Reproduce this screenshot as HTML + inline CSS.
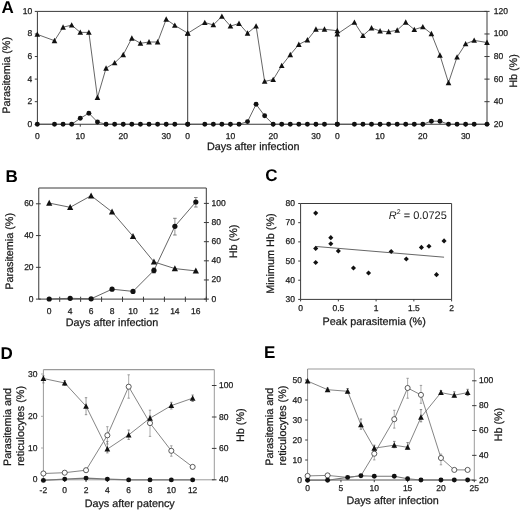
<!DOCTYPE html>
<html><head><meta charset="utf-8"><style>
html,body{margin:0;padding:0;background:#fff;}
svg{display:block;font-family:"Liberation Sans", sans-serif;text-rendering:geometricPrecision;-webkit-font-smoothing:antialiased;filter:grayscale(1) blur(0.3px);}
</style></head><body>
<svg width="520" height="511" viewBox="0 0 520 511">
<rect width="520" height="511" fill="#fff"/>

<line x1="37.40" y1="11.40" x2="487.00" y2="11.40" stroke="#3a3a3a" stroke-width="1.0"/>
<line x1="37.40" y1="11.40" x2="37.40" y2="124.25" stroke="#3a3a3a" stroke-width="1.0"/>
<line x1="487.00" y1="11.40" x2="487.00" y2="124.25" stroke="#3a3a3a" stroke-width="1.0"/>
<line x1="37.40" y1="124.25" x2="487.00" y2="124.25" stroke="#3a3a3a" stroke-width="1.0"/>
<line x1="187.70" y1="11.40" x2="187.70" y2="124.25" stroke="#3a3a3a" stroke-width="1.0"/>
<line x1="337.30" y1="11.40" x2="337.30" y2="124.25" stroke="#3a3a3a" stroke-width="1.0"/>
<line x1="34.80" y1="124.25" x2="37.40" y2="124.25" stroke="#3a3a3a" stroke-width="1.0"/>
<text x="32.30" y="126.77" font-size="8.5" text-anchor="end" fill="#1a1a1a" stroke="#1a1a1a" stroke-width="0.25">0</text>
<line x1="34.80" y1="101.68" x2="37.40" y2="101.68" stroke="#3a3a3a" stroke-width="1.0"/>
<text x="32.30" y="104.20" font-size="8.5" text-anchor="end" fill="#1a1a1a" stroke="#1a1a1a" stroke-width="0.25">2</text>
<line x1="34.80" y1="79.11" x2="37.40" y2="79.11" stroke="#3a3a3a" stroke-width="1.0"/>
<text x="32.30" y="81.63" font-size="8.5" text-anchor="end" fill="#1a1a1a" stroke="#1a1a1a" stroke-width="0.25">4</text>
<line x1="34.80" y1="56.54" x2="37.40" y2="56.54" stroke="#3a3a3a" stroke-width="1.0"/>
<text x="32.30" y="59.06" font-size="8.5" text-anchor="end" fill="#1a1a1a" stroke="#1a1a1a" stroke-width="0.25">6</text>
<line x1="34.80" y1="33.97" x2="37.40" y2="33.97" stroke="#3a3a3a" stroke-width="1.0"/>
<text x="32.30" y="36.49" font-size="8.5" text-anchor="end" fill="#1a1a1a" stroke="#1a1a1a" stroke-width="0.25">8</text>
<line x1="34.80" y1="11.40" x2="37.40" y2="11.40" stroke="#3a3a3a" stroke-width="1.0"/>
<text x="32.30" y="13.92" font-size="8.5" text-anchor="end" fill="#1a1a1a" stroke="#1a1a1a" stroke-width="0.25">10</text>
<line x1="484.40" y1="124.25" x2="489.60" y2="124.25" stroke="#3a3a3a" stroke-width="1.0"/>
<text x="493.70" y="126.77" font-size="8.5" text-anchor="start" fill="#1a1a1a" stroke="#1a1a1a" stroke-width="0.25">20</text>
<line x1="484.40" y1="101.68" x2="489.60" y2="101.68" stroke="#3a3a3a" stroke-width="1.0"/>
<text x="493.70" y="104.20" font-size="8.5" text-anchor="start" fill="#1a1a1a" stroke="#1a1a1a" stroke-width="0.25">40</text>
<line x1="484.40" y1="79.11" x2="489.60" y2="79.11" stroke="#3a3a3a" stroke-width="1.0"/>
<text x="493.70" y="81.63" font-size="8.5" text-anchor="start" fill="#1a1a1a" stroke="#1a1a1a" stroke-width="0.25">60</text>
<line x1="484.40" y1="56.54" x2="489.60" y2="56.54" stroke="#3a3a3a" stroke-width="1.0"/>
<text x="493.70" y="59.06" font-size="8.5" text-anchor="start" fill="#1a1a1a" stroke="#1a1a1a" stroke-width="0.25">80</text>
<line x1="484.40" y1="33.97" x2="489.60" y2="33.97" stroke="#3a3a3a" stroke-width="1.0"/>
<text x="493.70" y="36.49" font-size="8.5" text-anchor="start" fill="#1a1a1a" stroke="#1a1a1a" stroke-width="0.25">100</text>
<line x1="484.40" y1="11.40" x2="489.60" y2="11.40" stroke="#3a3a3a" stroke-width="1.0"/>
<text x="493.70" y="13.92" font-size="8.5" text-anchor="start" fill="#1a1a1a" stroke="#1a1a1a" stroke-width="0.25">120</text>
<text x="37.30" y="138.72" font-size="8.5" text-anchor="middle" fill="#1a1a1a" stroke="#1a1a1a" stroke-width="0.25">0</text>
<line x1="80.27" y1="124.25" x2="80.27" y2="126.65" stroke="#3a3a3a" stroke-width="1.0"/>
<text x="80.27" y="138.72" font-size="8.5" text-anchor="middle" fill="#1a1a1a" stroke="#1a1a1a" stroke-width="0.25">10</text>
<line x1="123.24" y1="124.25" x2="123.24" y2="126.65" stroke="#3a3a3a" stroke-width="1.0"/>
<text x="123.24" y="138.72" font-size="8.5" text-anchor="middle" fill="#1a1a1a" stroke="#1a1a1a" stroke-width="0.25">20</text>
<line x1="166.21" y1="124.25" x2="166.21" y2="126.65" stroke="#3a3a3a" stroke-width="1.0"/>
<text x="166.21" y="138.72" font-size="8.5" text-anchor="middle" fill="#1a1a1a" stroke="#1a1a1a" stroke-width="0.25">30</text>
<text x="187.70" y="138.72" font-size="8.5" text-anchor="middle" fill="#1a1a1a" stroke="#1a1a1a" stroke-width="0.25">0</text>
<line x1="230.44" y1="124.25" x2="230.44" y2="126.65" stroke="#3a3a3a" stroke-width="1.0"/>
<text x="230.44" y="138.72" font-size="8.5" text-anchor="middle" fill="#1a1a1a" stroke="#1a1a1a" stroke-width="0.25">10</text>
<line x1="273.19" y1="124.25" x2="273.19" y2="126.65" stroke="#3a3a3a" stroke-width="1.0"/>
<text x="273.19" y="138.72" font-size="8.5" text-anchor="middle" fill="#1a1a1a" stroke="#1a1a1a" stroke-width="0.25">20</text>
<line x1="315.93" y1="124.25" x2="315.93" y2="126.65" stroke="#3a3a3a" stroke-width="1.0"/>
<text x="315.93" y="138.72" font-size="8.5" text-anchor="middle" fill="#1a1a1a" stroke="#1a1a1a" stroke-width="0.25">30</text>
<text x="337.30" y="138.72" font-size="8.5" text-anchor="middle" fill="#1a1a1a" stroke="#1a1a1a" stroke-width="0.25">0</text>
<line x1="380.07" y1="124.25" x2="380.07" y2="126.65" stroke="#3a3a3a" stroke-width="1.0"/>
<text x="380.07" y="138.72" font-size="8.5" text-anchor="middle" fill="#1a1a1a" stroke="#1a1a1a" stroke-width="0.25">10</text>
<line x1="422.84" y1="124.25" x2="422.84" y2="126.65" stroke="#3a3a3a" stroke-width="1.0"/>
<text x="422.84" y="138.72" font-size="8.5" text-anchor="middle" fill="#1a1a1a" stroke="#1a1a1a" stroke-width="0.25">20</text>
<line x1="465.61" y1="124.25" x2="465.61" y2="126.65" stroke="#3a3a3a" stroke-width="1.0"/>
<text x="465.61" y="138.72" font-size="8.5" text-anchor="middle" fill="#1a1a1a" stroke="#1a1a1a" stroke-width="0.25">30</text>
<text x="253.20" y="150.00" font-size="10.8" text-anchor="middle" fill="#1a1a1a" stroke="#1a1a1a" stroke-width="0.25">Days after infection</text>
<text transform="translate(10.49 75.40) rotate(-90)" font-size="10.8" text-anchor="middle" fill="#1a1a1a" stroke="#1a1a1a" stroke-width="0.25">Parasitemia (%)</text>
<text transform="translate(517.29 71.00) rotate(-90)" font-size="10.8" text-anchor="middle" fill="#1a1a1a" stroke="#1a1a1a" stroke-width="0.25">Hb (%)</text>
<text x="1.60" y="12.80" font-size="17" text-anchor="start" font-weight="bold" fill="#000">A</text>
<polyline points="37.30,124.25 54.49,124.25 63.08,124.25 71.68,124.25 80.27,118.30 88.87,113.20 97.46,122.00 106.05,124.25 114.65,124.25 123.24,124.25 131.84,124.25 140.43,124.25 149.03,124.25 157.62,124.25 166.21,124.25 174.81,124.25 187.70,124.25" fill="none" stroke="#555" stroke-width="0.9"/>
<polyline points="37.30,34.40 54.49,40.70 63.08,27.20 71.68,25.10 80.27,32.40 88.87,32.40 97.46,97.50 106.05,68.20 114.65,62.90 123.24,54.70 131.84,38.20 140.43,43.30 149.03,42.00 157.62,42.00 166.21,19.30 174.81,25.40 187.70,33.10" fill="none" stroke="#555" stroke-width="0.9"/>
<polyline points="187.70,124.25 204.80,124.25 213.35,124.25 221.89,124.25 230.44,124.25 238.99,124.25 247.54,121.60 256.09,104.30 264.64,115.80 273.19,124.25 281.73,124.25 290.28,124.25 298.83,124.25 307.38,124.25 315.93,124.25 324.48,124.25 337.30,124.25" fill="none" stroke="#555" stroke-width="0.9"/>
<polyline points="187.70,33.30 204.80,22.60 213.35,24.90 221.89,16.40 230.44,26.10 238.99,23.50 247.54,33.20 256.09,26.10 264.64,81.40 273.19,79.60 281.73,65.60 290.28,54.70 298.83,44.50 307.38,40.00 315.93,29.30 324.48,29.30 337.30,30.70" fill="none" stroke="#555" stroke-width="0.9"/>
<polyline points="337.30,124.25 354.41,124.25 362.96,124.25 371.52,124.25 380.07,124.25 388.63,124.25 397.18,124.25 405.73,124.25 414.29,124.25 422.84,124.25 431.40,121.20 439.95,121.20 448.51,124.25 457.06,124.25 465.61,124.25 474.17,124.25 487.00,124.25" fill="none" stroke="#555" stroke-width="0.9"/>
<polyline points="337.30,34.00 354.41,22.40 362.96,35.60 371.52,28.00 380.07,31.00 388.63,31.80 397.18,30.20 405.73,22.30 414.29,29.60 422.84,26.90 431.40,33.70 439.95,55.20 448.51,82.70 457.06,57.10 465.61,43.90 474.17,40.40 487.00,42.50" fill="none" stroke="#555" stroke-width="0.9"/>
<circle cx="37.30" cy="124.25" r="2.45" fill="#111"/>
<circle cx="54.49" cy="124.25" r="2.45" fill="#111"/>
<circle cx="63.08" cy="124.25" r="2.45" fill="#111"/>
<circle cx="71.68" cy="124.25" r="2.45" fill="#111"/>
<circle cx="80.27" cy="118.30" r="2.45" fill="#111"/>
<circle cx="88.87" cy="113.20" r="2.45" fill="#111"/>
<circle cx="97.46" cy="122.00" r="2.45" fill="#111"/>
<circle cx="106.05" cy="124.25" r="2.45" fill="#111"/>
<circle cx="114.65" cy="124.25" r="2.45" fill="#111"/>
<circle cx="123.24" cy="124.25" r="2.45" fill="#111"/>
<circle cx="131.84" cy="124.25" r="2.45" fill="#111"/>
<circle cx="140.43" cy="124.25" r="2.45" fill="#111"/>
<circle cx="149.03" cy="124.25" r="2.45" fill="#111"/>
<circle cx="157.62" cy="124.25" r="2.45" fill="#111"/>
<circle cx="166.21" cy="124.25" r="2.45" fill="#111"/>
<circle cx="174.81" cy="124.25" r="2.45" fill="#111"/>
<circle cx="187.70" cy="124.25" r="2.45" fill="#111"/>
<polygon points="37.30,31.43 34.49,36.83 40.11,36.83" fill="#111"/>
<polygon points="54.49,37.73 51.68,43.13 57.30,43.13" fill="#111"/>
<polygon points="63.08,24.23 60.27,29.63 65.89,29.63" fill="#111"/>
<polygon points="71.68,22.13 68.87,27.53 74.49,27.53" fill="#111"/>
<polygon points="80.27,29.43 77.46,34.83 83.08,34.83" fill="#111"/>
<polygon points="88.87,29.43 86.06,34.83 91.67,34.83" fill="#111"/>
<polygon points="97.46,94.53 94.65,99.93 100.27,99.93" fill="#111"/>
<polygon points="106.05,65.23 103.25,70.63 108.86,70.63" fill="#111"/>
<polygon points="114.65,59.93 111.84,65.33 117.46,65.33" fill="#111"/>
<polygon points="123.24,51.73 120.43,57.13 126.05,57.13" fill="#111"/>
<polygon points="131.84,35.23 129.03,40.63 134.65,40.63" fill="#111"/>
<polygon points="140.43,40.33 137.62,45.73 143.24,45.73" fill="#111"/>
<polygon points="149.03,39.03 146.22,44.43 151.83,44.43" fill="#111"/>
<polygon points="157.62,39.03 154.81,44.43 160.43,44.43" fill="#111"/>
<polygon points="166.21,16.33 163.41,21.73 169.02,21.73" fill="#111"/>
<polygon points="174.81,22.43 172.00,27.83 177.62,27.83" fill="#111"/>
<polygon points="187.70,30.13 184.89,35.53 190.51,35.53" fill="#111"/>
<circle cx="187.70" cy="124.25" r="2.45" fill="#111"/>
<circle cx="204.80" cy="124.25" r="2.45" fill="#111"/>
<circle cx="213.35" cy="124.25" r="2.45" fill="#111"/>
<circle cx="221.89" cy="124.25" r="2.45" fill="#111"/>
<circle cx="230.44" cy="124.25" r="2.45" fill="#111"/>
<circle cx="238.99" cy="124.25" r="2.45" fill="#111"/>
<circle cx="247.54" cy="121.60" r="2.45" fill="#111"/>
<circle cx="256.09" cy="104.30" r="2.45" fill="#111"/>
<circle cx="264.64" cy="115.80" r="2.45" fill="#111"/>
<circle cx="273.19" cy="124.25" r="2.45" fill="#111"/>
<circle cx="281.73" cy="124.25" r="2.45" fill="#111"/>
<circle cx="290.28" cy="124.25" r="2.45" fill="#111"/>
<circle cx="298.83" cy="124.25" r="2.45" fill="#111"/>
<circle cx="307.38" cy="124.25" r="2.45" fill="#111"/>
<circle cx="315.93" cy="124.25" r="2.45" fill="#111"/>
<circle cx="324.48" cy="124.25" r="2.45" fill="#111"/>
<circle cx="337.30" cy="124.25" r="2.45" fill="#111"/>
<polygon points="187.70,30.33 184.89,35.73 190.51,35.73" fill="#111"/>
<polygon points="204.80,19.63 201.99,25.03 207.61,25.03" fill="#111"/>
<polygon points="213.35,21.93 210.54,27.33 216.15,27.33" fill="#111"/>
<polygon points="221.89,13.43 219.09,18.83 224.70,18.83" fill="#111"/>
<polygon points="230.44,23.13 227.63,28.53 233.25,28.53" fill="#111"/>
<polygon points="238.99,20.53 236.18,25.93 241.80,25.93" fill="#111"/>
<polygon points="247.54,30.23 244.73,35.63 250.35,35.63" fill="#111"/>
<polygon points="256.09,23.13 253.28,28.53 258.90,28.53" fill="#111"/>
<polygon points="264.64,78.43 261.83,83.83 267.45,83.83" fill="#111"/>
<polygon points="273.19,76.63 270.38,82.03 275.99,82.03" fill="#111"/>
<polygon points="281.73,62.63 278.93,68.03 284.54,68.03" fill="#111"/>
<polygon points="290.28,51.73 287.47,57.13 293.09,57.13" fill="#111"/>
<polygon points="298.83,41.53 296.02,46.93 301.64,46.93" fill="#111"/>
<polygon points="307.38,37.03 304.57,42.43 310.19,42.43" fill="#111"/>
<polygon points="315.93,26.33 313.12,31.73 318.74,31.73" fill="#111"/>
<polygon points="324.48,26.33 321.67,31.73 327.29,31.73" fill="#111"/>
<polygon points="337.30,27.73 334.49,33.13 340.11,33.13" fill="#111"/>
<circle cx="337.30" cy="124.25" r="2.45" fill="#111"/>
<circle cx="354.41" cy="124.25" r="2.45" fill="#111"/>
<circle cx="362.96" cy="124.25" r="2.45" fill="#111"/>
<circle cx="371.52" cy="124.25" r="2.45" fill="#111"/>
<circle cx="380.07" cy="124.25" r="2.45" fill="#111"/>
<circle cx="388.63" cy="124.25" r="2.45" fill="#111"/>
<circle cx="397.18" cy="124.25" r="2.45" fill="#111"/>
<circle cx="405.73" cy="124.25" r="2.45" fill="#111"/>
<circle cx="414.29" cy="124.25" r="2.45" fill="#111"/>
<circle cx="422.84" cy="124.25" r="2.45" fill="#111"/>
<circle cx="431.40" cy="121.20" r="2.45" fill="#111"/>
<circle cx="439.95" cy="121.20" r="2.45" fill="#111"/>
<circle cx="448.51" cy="124.25" r="2.45" fill="#111"/>
<circle cx="457.06" cy="124.25" r="2.45" fill="#111"/>
<circle cx="465.61" cy="124.25" r="2.45" fill="#111"/>
<circle cx="474.17" cy="124.25" r="2.45" fill="#111"/>
<circle cx="487.00" cy="124.25" r="2.45" fill="#111"/>
<polygon points="337.30,31.03 334.49,36.43 340.11,36.43" fill="#111"/>
<polygon points="354.41,19.43 351.60,24.83 357.22,24.83" fill="#111"/>
<polygon points="362.96,32.63 360.15,38.03 365.77,38.03" fill="#111"/>
<polygon points="371.52,25.03 368.71,30.43 374.33,30.43" fill="#111"/>
<polygon points="380.07,28.03 377.26,33.43 382.88,33.43" fill="#111"/>
<polygon points="388.63,28.83 385.82,34.23 391.43,34.23" fill="#111"/>
<polygon points="397.18,27.23 394.37,32.63 399.99,32.63" fill="#111"/>
<polygon points="405.73,19.33 402.93,24.73 408.54,24.73" fill="#111"/>
<polygon points="414.29,26.63 411.48,32.03 417.10,32.03" fill="#111"/>
<polygon points="422.84,23.93 420.03,29.33 425.65,29.33" fill="#111"/>
<polygon points="431.40,30.73 428.59,36.13 434.21,36.13" fill="#111"/>
<polygon points="439.95,52.23 437.14,57.63 442.76,57.63" fill="#111"/>
<polygon points="448.51,79.73 445.70,85.13 451.31,85.13" fill="#111"/>
<polygon points="457.06,54.13 454.25,59.53 459.87,59.53" fill="#111"/>
<polygon points="465.61,40.93 462.81,46.33 468.42,46.33" fill="#111"/>
<polygon points="474.17,37.43 471.36,42.83 476.98,42.83" fill="#111"/>
<polygon points="487.00,39.53 484.19,44.93 489.81,44.93" fill="#111"/>
<line x1="38.75" y1="188.00" x2="206.30" y2="188.00" stroke="#3a3a3a" stroke-width="1.0"/>
<line x1="38.75" y1="188.00" x2="38.75" y2="299.10" stroke="#3a3a3a" stroke-width="1.0"/>
<line x1="206.30" y1="188.00" x2="206.30" y2="299.10" stroke="#3a3a3a" stroke-width="1.0"/>
<line x1="38.75" y1="299.10" x2="206.30" y2="299.10" stroke="#3a3a3a" stroke-width="1.0"/>
<line x1="59.69" y1="296.70" x2="59.69" y2="301.90" stroke="#3a3a3a" stroke-width="1.0"/>
<line x1="80.64" y1="296.70" x2="80.64" y2="301.90" stroke="#3a3a3a" stroke-width="1.0"/>
<line x1="101.58" y1="296.70" x2="101.58" y2="301.90" stroke="#3a3a3a" stroke-width="1.0"/>
<line x1="122.53" y1="296.70" x2="122.53" y2="301.90" stroke="#3a3a3a" stroke-width="1.0"/>
<line x1="143.47" y1="296.70" x2="143.47" y2="301.90" stroke="#3a3a3a" stroke-width="1.0"/>
<line x1="164.41" y1="296.70" x2="164.41" y2="301.90" stroke="#3a3a3a" stroke-width="1.0"/>
<line x1="185.36" y1="296.70" x2="185.36" y2="301.90" stroke="#3a3a3a" stroke-width="1.0"/>
<line x1="206.30" y1="296.70" x2="206.30" y2="301.90" stroke="#3a3a3a" stroke-width="1.0"/>
<line x1="35.95" y1="299.10" x2="40.75" y2="299.10" stroke="#3a3a3a" stroke-width="1.0"/>
<text x="33.60" y="301.62" font-size="8.5" text-anchor="end" fill="#1a1a1a" stroke="#1a1a1a" stroke-width="0.25">0</text>
<line x1="35.95" y1="267.33" x2="40.75" y2="267.33" stroke="#3a3a3a" stroke-width="1.0"/>
<text x="33.60" y="269.85" font-size="8.5" text-anchor="end" fill="#1a1a1a" stroke="#1a1a1a" stroke-width="0.25">20</text>
<line x1="35.95" y1="235.57" x2="40.75" y2="235.57" stroke="#3a3a3a" stroke-width="1.0"/>
<text x="33.60" y="238.08" font-size="8.5" text-anchor="end" fill="#1a1a1a" stroke="#1a1a1a" stroke-width="0.25">40</text>
<line x1="35.95" y1="203.80" x2="40.75" y2="203.80" stroke="#3a3a3a" stroke-width="1.0"/>
<text x="33.60" y="206.32" font-size="8.5" text-anchor="end" fill="#1a1a1a" stroke="#1a1a1a" stroke-width="0.25">60</text>
<line x1="203.90" y1="299.10" x2="208.90" y2="299.10" stroke="#3a3a3a" stroke-width="1.0"/>
<text x="211.60" y="301.62" font-size="8.5" text-anchor="start" fill="#1a1a1a" stroke="#1a1a1a" stroke-width="0.25">0</text>
<line x1="203.90" y1="279.96" x2="208.90" y2="279.96" stroke="#3a3a3a" stroke-width="1.0"/>
<text x="211.60" y="282.48" font-size="8.5" text-anchor="start" fill="#1a1a1a" stroke="#1a1a1a" stroke-width="0.25">20</text>
<line x1="203.90" y1="260.82" x2="208.90" y2="260.82" stroke="#3a3a3a" stroke-width="1.0"/>
<text x="211.60" y="263.34" font-size="8.5" text-anchor="start" fill="#1a1a1a" stroke="#1a1a1a" stroke-width="0.25">40</text>
<line x1="203.90" y1="241.68" x2="208.90" y2="241.68" stroke="#3a3a3a" stroke-width="1.0"/>
<text x="211.60" y="244.20" font-size="8.5" text-anchor="start" fill="#1a1a1a" stroke="#1a1a1a" stroke-width="0.25">60</text>
<line x1="203.90" y1="222.54" x2="208.90" y2="222.54" stroke="#3a3a3a" stroke-width="1.0"/>
<text x="211.60" y="225.06" font-size="8.5" text-anchor="start" fill="#1a1a1a" stroke="#1a1a1a" stroke-width="0.25">80</text>
<line x1="203.90" y1="203.40" x2="208.90" y2="203.40" stroke="#3a3a3a" stroke-width="1.0"/>
<text x="211.60" y="205.92" font-size="8.5" text-anchor="start" fill="#1a1a1a" stroke="#1a1a1a" stroke-width="0.25">100</text>
<text x="49.22" y="313.72" font-size="8.5" text-anchor="middle" fill="#1a1a1a" stroke="#1a1a1a" stroke-width="0.25">0</text>
<text x="70.17" y="313.72" font-size="8.5" text-anchor="middle" fill="#1a1a1a" stroke="#1a1a1a" stroke-width="0.25">4</text>
<text x="91.11" y="313.72" font-size="8.5" text-anchor="middle" fill="#1a1a1a" stroke="#1a1a1a" stroke-width="0.25">6</text>
<text x="112.05" y="313.72" font-size="8.5" text-anchor="middle" fill="#1a1a1a" stroke="#1a1a1a" stroke-width="0.25">8</text>
<text x="133.00" y="313.72" font-size="8.5" text-anchor="middle" fill="#1a1a1a" stroke="#1a1a1a" stroke-width="0.25">10</text>
<text x="153.94" y="313.72" font-size="8.5" text-anchor="middle" fill="#1a1a1a" stroke="#1a1a1a" stroke-width="0.25">12</text>
<text x="174.88" y="313.72" font-size="8.5" text-anchor="middle" fill="#1a1a1a" stroke="#1a1a1a" stroke-width="0.25">14</text>
<text x="195.83" y="313.72" font-size="8.5" text-anchor="middle" fill="#1a1a1a" stroke="#1a1a1a" stroke-width="0.25">16</text>
<text x="112.00" y="326.10" font-size="10.8" text-anchor="middle" fill="#1a1a1a" stroke="#1a1a1a" stroke-width="0.25">Days after infection</text>
<text transform="translate(12.59 251.40) rotate(-90)" font-size="10.8" text-anchor="middle" fill="#1a1a1a" stroke="#1a1a1a" stroke-width="0.25">Parasitemia (%)</text>
<text transform="translate(236.59 241.40) rotate(-90)" font-size="10.8" text-anchor="middle" fill="#1a1a1a" stroke="#1a1a1a" stroke-width="0.25">Hb (%)</text>
<text x="5.60" y="181.60" font-size="17" text-anchor="start" font-weight="bold" fill="#000">B</text>
<line x1="174.88" y1="218.30" x2="174.88" y2="235.00" stroke="#666" stroke-width="0.7"/>
<line x1="173.08" y1="218.30" x2="176.68" y2="218.30" stroke="#666" stroke-width="0.8"/>
<line x1="173.08" y1="235.00" x2="176.68" y2="235.00" stroke="#666" stroke-width="0.8"/>
<line x1="195.83" y1="197.50" x2="195.83" y2="207.00" stroke="#666" stroke-width="0.7"/>
<line x1="194.03" y1="197.50" x2="197.63" y2="197.50" stroke="#666" stroke-width="0.8"/>
<line x1="194.03" y1="207.00" x2="197.63" y2="207.00" stroke="#666" stroke-width="0.8"/>
<line x1="153.94" y1="268.00" x2="153.94" y2="273.00" stroke="#666" stroke-width="0.7"/>
<line x1="152.14" y1="268.00" x2="155.74" y2="268.00" stroke="#666" stroke-width="0.8"/>
<line x1="152.14" y1="273.00" x2="155.74" y2="273.00" stroke="#666" stroke-width="0.8"/>
<polyline points="49.22,203.10 70.17,207.30 91.11,195.70 112.05,211.90 133.00,236.30 153.94,261.90 174.88,268.60 195.83,270.90" fill="none" stroke="#555" stroke-width="0.9"/>
<polyline points="49.22,299.00 70.17,298.30 91.11,298.80 112.05,289.20 133.00,291.40 153.94,270.40 174.88,226.30 195.83,202.00" fill="none" stroke="#555" stroke-width="0.9"/>
<polygon points="49.22,199.80 46.10,205.80 52.34,205.80" fill="#111"/>
<polygon points="70.17,204.00 67.05,210.00 73.29,210.00" fill="#111"/>
<polygon points="91.11,192.40 87.99,198.40 94.23,198.40" fill="#111"/>
<polygon points="112.05,208.60 108.93,214.60 115.17,214.60" fill="#111"/>
<polygon points="133.00,233.00 129.88,239.00 136.12,239.00" fill="#111"/>
<polygon points="153.94,258.60 150.82,264.60 157.06,264.60" fill="#111"/>
<polygon points="174.88,265.30 171.76,271.30 178.00,271.30" fill="#111"/>
<polygon points="195.83,267.60 192.71,273.60 198.95,273.60" fill="#111"/>
<circle cx="49.22" cy="299.00" r="2.6" fill="#111"/>
<circle cx="70.17" cy="298.30" r="2.6" fill="#111"/>
<circle cx="91.11" cy="298.80" r="2.6" fill="#111"/>
<circle cx="112.05" cy="289.20" r="2.6" fill="#111"/>
<circle cx="133.00" cy="291.40" r="2.6" fill="#111"/>
<circle cx="153.94" cy="270.40" r="2.6" fill="#111"/>
<circle cx="174.88" cy="226.30" r="2.6" fill="#111"/>
<circle cx="195.83" cy="202.00" r="2.6" fill="#111"/>
<line x1="300.60" y1="203.50" x2="451.60" y2="203.50" stroke="#3a3a3a" stroke-width="1.0"/>
<line x1="300.60" y1="203.50" x2="300.60" y2="299.40" stroke="#3a3a3a" stroke-width="1.0"/>
<line x1="451.60" y1="203.50" x2="451.60" y2="299.40" stroke="#3a3a3a" stroke-width="1.0"/>
<line x1="300.60" y1="299.40" x2="451.60" y2="299.40" stroke="#3a3a3a" stroke-width="1.0"/>
<line x1="298.20" y1="299.40" x2="300.60" y2="299.40" stroke="#3a3a3a" stroke-width="1.0"/>
<text x="295.00" y="301.92" font-size="8.5" text-anchor="end" fill="#1a1a1a" stroke="#1a1a1a" stroke-width="0.25">30</text>
<line x1="298.20" y1="280.22" x2="300.60" y2="280.22" stroke="#3a3a3a" stroke-width="1.0"/>
<text x="295.00" y="282.74" font-size="8.5" text-anchor="end" fill="#1a1a1a" stroke="#1a1a1a" stroke-width="0.25">40</text>
<line x1="298.20" y1="261.04" x2="300.60" y2="261.04" stroke="#3a3a3a" stroke-width="1.0"/>
<text x="295.00" y="263.56" font-size="8.5" text-anchor="end" fill="#1a1a1a" stroke="#1a1a1a" stroke-width="0.25">50</text>
<line x1="298.20" y1="241.86" x2="300.60" y2="241.86" stroke="#3a3a3a" stroke-width="1.0"/>
<text x="295.00" y="244.38" font-size="8.5" text-anchor="end" fill="#1a1a1a" stroke="#1a1a1a" stroke-width="0.25">60</text>
<line x1="298.20" y1="222.68" x2="300.60" y2="222.68" stroke="#3a3a3a" stroke-width="1.0"/>
<text x="295.00" y="225.20" font-size="8.5" text-anchor="end" fill="#1a1a1a" stroke="#1a1a1a" stroke-width="0.25">70</text>
<line x1="298.20" y1="203.50" x2="300.60" y2="203.50" stroke="#3a3a3a" stroke-width="1.0"/>
<text x="295.00" y="206.02" font-size="8.5" text-anchor="end" fill="#1a1a1a" stroke="#1a1a1a" stroke-width="0.25">80</text>
<line x1="300.60" y1="299.40" x2="300.60" y2="301.40" stroke="#3a3a3a" stroke-width="1.0"/>
<text x="300.60" y="310.82" font-size="8.5" text-anchor="middle" fill="#1a1a1a" stroke="#1a1a1a" stroke-width="0.25">0</text>
<line x1="338.35" y1="299.40" x2="338.35" y2="301.40" stroke="#3a3a3a" stroke-width="1.0"/>
<text x="338.35" y="310.82" font-size="8.5" text-anchor="middle" fill="#1a1a1a" stroke="#1a1a1a" stroke-width="0.25">0.5</text>
<line x1="376.10" y1="299.40" x2="376.10" y2="301.40" stroke="#3a3a3a" stroke-width="1.0"/>
<text x="376.10" y="310.82" font-size="8.5" text-anchor="middle" fill="#1a1a1a" stroke="#1a1a1a" stroke-width="0.25">1</text>
<line x1="413.85" y1="299.40" x2="413.85" y2="301.40" stroke="#3a3a3a" stroke-width="1.0"/>
<text x="413.85" y="310.82" font-size="8.5" text-anchor="middle" fill="#1a1a1a" stroke="#1a1a1a" stroke-width="0.25">1.5</text>
<line x1="451.60" y1="299.40" x2="451.60" y2="301.40" stroke="#3a3a3a" stroke-width="1.0"/>
<text x="451.60" y="310.82" font-size="8.5" text-anchor="middle" fill="#1a1a1a" stroke="#1a1a1a" stroke-width="0.25">2</text>
<text x="374.20" y="325.40" font-size="10.8" text-anchor="middle" fill="#1a1a1a" stroke="#1a1a1a" stroke-width="0.25">Peak parasitemia (%)</text>
<text transform="translate(273.79 253.60) rotate(-90)" font-size="10.8" text-anchor="middle" fill="#1a1a1a" stroke="#1a1a1a" stroke-width="0.25">Minimum Hb (%)</text>
<text x="265.20" y="181.40" font-size="17" text-anchor="start" font-weight="bold" fill="#000">C</text>
<line x1="315.70" y1="246.46" x2="444.05" y2="257.20" stroke="#555" stroke-width="0.9"/>
<polygon points="315.70,210.54 318.25,213.09 315.70,215.64 313.15,213.09" fill="#111"/>
<polygon points="315.70,245.83 318.25,248.38 315.70,250.93 313.15,248.38" fill="#111"/>
<polygon points="315.70,260.02 318.25,262.57 315.70,265.12 313.15,262.57" fill="#111"/>
<polygon points="330.80,235.09 333.35,237.64 330.80,240.19 328.25,237.64" fill="#111"/>
<polygon points="330.80,241.23 333.35,243.78 330.80,246.33 328.25,243.78" fill="#111"/>
<polygon points="338.35,248.52 340.90,251.07 338.35,253.62 335.80,251.07" fill="#111"/>
<polygon points="353.45,265.39 356.00,267.94 353.45,270.49 350.90,267.94" fill="#111"/>
<polygon points="368.55,270.38 371.10,272.93 368.55,275.48 366.00,272.93" fill="#111"/>
<polygon points="391.20,248.90 393.75,251.45 391.20,254.00 388.65,251.45" fill="#111"/>
<polygon points="406.30,256.38 408.85,258.93 406.30,261.48 403.75,258.93" fill="#111"/>
<polygon points="421.40,244.87 423.95,247.42 421.40,249.97 418.85,247.42" fill="#111"/>
<polygon points="428.95,243.72 431.50,246.27 428.95,248.82 426.40,246.27" fill="#111"/>
<polygon points="436.50,272.11 439.05,274.66 436.50,277.21 433.95,274.66" fill="#111"/>
<polygon points="444.05,238.35 446.60,240.90 444.05,243.45 441.50,240.90" fill="#111"/>
<text x="446.8" y="218.6" font-size="11" text-anchor="end" fill="#1a1a1a"><tspan font-style="italic">R</tspan><tspan font-size="7" dy="-4.5">2</tspan><tspan dy="4.5"> = 0.0725</tspan></text>
<line x1="43.40" y1="369.60" x2="214.30" y2="369.60" stroke="#9a9a9a" stroke-width="1.1"/>
<line x1="43.40" y1="369.60" x2="43.40" y2="479.80" stroke="#9a9a9a" stroke-width="1.0"/>
<line x1="214.30" y1="369.60" x2="214.30" y2="479.80" stroke="#9a9a9a" stroke-width="1.0"/>
<line x1="43.40" y1="479.80" x2="214.30" y2="479.80" stroke="#9a9a9a" stroke-width="1.0"/>
<line x1="41.00" y1="479.80" x2="43.40" y2="479.80" stroke="#aaa" stroke-width="1.0"/>
<text x="37.50" y="482.32" font-size="8.5" text-anchor="end" fill="#1a1a1a" stroke="#1a1a1a" stroke-width="0.25">0</text>
<line x1="41.00" y1="448.00" x2="43.40" y2="448.00" stroke="#aaa" stroke-width="1.0"/>
<text x="37.50" y="450.52" font-size="8.5" text-anchor="end" fill="#1a1a1a" stroke="#1a1a1a" stroke-width="0.25">10</text>
<line x1="41.00" y1="416.30" x2="43.40" y2="416.30" stroke="#aaa" stroke-width="1.0"/>
<text x="37.50" y="418.82" font-size="8.5" text-anchor="end" fill="#1a1a1a" stroke="#1a1a1a" stroke-width="0.25">20</text>
<line x1="41.00" y1="374.00" x2="43.40" y2="374.00" stroke="#aaa" stroke-width="1.0"/>
<text x="37.50" y="376.52" font-size="8.5" text-anchor="end" fill="#1a1a1a" stroke="#1a1a1a" stroke-width="0.25">30</text>
<line x1="211.90" y1="479.80" x2="216.50" y2="479.80" stroke="#3a3a3a" stroke-width="1.0"/>
<text x="219.00" y="482.32" font-size="8.5" text-anchor="start" fill="#1a1a1a" stroke="#1a1a1a" stroke-width="0.25">40</text>
<line x1="211.90" y1="448.40" x2="216.50" y2="448.40" stroke="#3a3a3a" stroke-width="1.0"/>
<text x="219.00" y="450.92" font-size="8.5" text-anchor="start" fill="#1a1a1a" stroke="#1a1a1a" stroke-width="0.25">60</text>
<line x1="211.90" y1="417.00" x2="216.50" y2="417.00" stroke="#3a3a3a" stroke-width="1.0"/>
<text x="219.00" y="419.52" font-size="8.5" text-anchor="start" fill="#1a1a1a" stroke="#1a1a1a" stroke-width="0.25">80</text>
<line x1="211.90" y1="385.50" x2="216.50" y2="385.50" stroke="#3a3a3a" stroke-width="1.0"/>
<text x="219.00" y="388.02" font-size="8.5" text-anchor="start" fill="#1a1a1a" stroke="#1a1a1a" stroke-width="0.25">100</text>
<line x1="43.40" y1="479.80" x2="43.40" y2="482.00" stroke="#3a3a3a" stroke-width="1.0"/>
<text x="43.40" y="492.52" font-size="8.5" text-anchor="middle" fill="#1a1a1a" stroke="#1a1a1a" stroke-width="0.25">-2</text>
<line x1="64.72" y1="479.80" x2="64.72" y2="482.00" stroke="#3a3a3a" stroke-width="1.0"/>
<text x="64.72" y="492.52" font-size="8.5" text-anchor="middle" fill="#1a1a1a" stroke="#1a1a1a" stroke-width="0.25">0</text>
<line x1="86.04" y1="479.80" x2="86.04" y2="482.00" stroke="#3a3a3a" stroke-width="1.0"/>
<text x="86.04" y="492.52" font-size="8.5" text-anchor="middle" fill="#1a1a1a" stroke="#1a1a1a" stroke-width="0.25">2</text>
<line x1="107.36" y1="479.80" x2="107.36" y2="482.00" stroke="#3a3a3a" stroke-width="1.0"/>
<text x="107.36" y="492.52" font-size="8.5" text-anchor="middle" fill="#1a1a1a" stroke="#1a1a1a" stroke-width="0.25">4</text>
<line x1="128.68" y1="479.80" x2="128.68" y2="482.00" stroke="#3a3a3a" stroke-width="1.0"/>
<text x="128.68" y="492.52" font-size="8.5" text-anchor="middle" fill="#1a1a1a" stroke="#1a1a1a" stroke-width="0.25">6</text>
<line x1="150.00" y1="479.80" x2="150.00" y2="482.00" stroke="#3a3a3a" stroke-width="1.0"/>
<text x="150.00" y="492.52" font-size="8.5" text-anchor="middle" fill="#1a1a1a" stroke="#1a1a1a" stroke-width="0.25">8</text>
<line x1="171.32" y1="479.80" x2="171.32" y2="482.00" stroke="#3a3a3a" stroke-width="1.0"/>
<text x="171.32" y="492.52" font-size="8.5" text-anchor="middle" fill="#1a1a1a" stroke="#1a1a1a" stroke-width="0.25">10</text>
<line x1="192.64" y1="479.80" x2="192.64" y2="482.00" stroke="#3a3a3a" stroke-width="1.0"/>
<text x="192.64" y="492.52" font-size="8.5" text-anchor="middle" fill="#1a1a1a" stroke="#1a1a1a" stroke-width="0.25">12</text>
<text x="129.70" y="507.20" font-size="10.8" text-anchor="middle" fill="#1a1a1a" stroke="#1a1a1a" stroke-width="0.25">Days after patency</text>
<text transform="translate(10.60 427.00) rotate(-90)" font-size="10.8" text-anchor="middle" fill="#1a1a1a" stroke="#1a1a1a" stroke-width="0.25">Parasitemia and</text>
<text transform="translate(23.60 425.90) rotate(-90)" font-size="10.8" text-anchor="middle" fill="#1a1a1a" stroke="#1a1a1a" stroke-width="0.25">reticulocytes (%)</text>
<text transform="translate(244.39 425.20) rotate(-90)" font-size="10.8" text-anchor="middle" fill="#1a1a1a" stroke="#1a1a1a" stroke-width="0.25">Hb (%)</text>
<text x="0.60" y="358.90" font-size="17" text-anchor="start" font-weight="bold" fill="#000">D</text>
<line x1="43.40" y1="375.80" x2="43.40" y2="382.90" stroke="#777" stroke-width="0.7"/>
<line x1="42.20" y1="375.80" x2="44.60" y2="375.80" stroke="#777" stroke-width="0.8"/>
<line x1="42.20" y1="382.90" x2="44.60" y2="382.90" stroke="#777" stroke-width="0.8"/>
<line x1="64.72" y1="380.50" x2="64.72" y2="385.50" stroke="#777" stroke-width="0.7"/>
<line x1="63.52" y1="380.50" x2="65.92" y2="380.50" stroke="#777" stroke-width="0.8"/>
<line x1="63.52" y1="385.50" x2="65.92" y2="385.50" stroke="#777" stroke-width="0.8"/>
<line x1="86.04" y1="397.70" x2="86.04" y2="414.70" stroke="#777" stroke-width="0.7"/>
<line x1="84.84" y1="397.70" x2="87.24" y2="397.70" stroke="#777" stroke-width="0.8"/>
<line x1="84.84" y1="414.70" x2="87.24" y2="414.70" stroke="#777" stroke-width="0.8"/>
<line x1="107.36" y1="426.70" x2="107.36" y2="444.00" stroke="#8a8a8a" stroke-width="0.7"/>
<line x1="106.16" y1="426.70" x2="108.56" y2="426.70" stroke="#8a8a8a" stroke-width="0.8"/>
<line x1="106.16" y1="444.00" x2="108.56" y2="444.00" stroke="#8a8a8a" stroke-width="0.8"/>
<line x1="107.36" y1="441.40" x2="107.36" y2="452.90" stroke="#777" stroke-width="0.7"/>
<line x1="106.16" y1="441.40" x2="108.56" y2="441.40" stroke="#777" stroke-width="0.8"/>
<line x1="106.16" y1="452.90" x2="108.56" y2="452.90" stroke="#777" stroke-width="0.8"/>
<line x1="128.68" y1="374.80" x2="128.68" y2="398.20" stroke="#8a8a8a" stroke-width="0.7"/>
<line x1="127.48" y1="374.80" x2="129.88" y2="374.80" stroke="#8a8a8a" stroke-width="0.8"/>
<line x1="127.48" y1="398.20" x2="129.88" y2="398.20" stroke="#8a8a8a" stroke-width="0.8"/>
<line x1="128.68" y1="430.00" x2="128.68" y2="439.40" stroke="#777" stroke-width="0.7"/>
<line x1="127.48" y1="430.00" x2="129.88" y2="430.00" stroke="#777" stroke-width="0.8"/>
<line x1="127.48" y1="439.40" x2="129.88" y2="439.40" stroke="#777" stroke-width="0.8"/>
<line x1="150.00" y1="410.20" x2="150.00" y2="436.40" stroke="#8a8a8a" stroke-width="0.7"/>
<line x1="148.80" y1="410.20" x2="151.20" y2="410.20" stroke="#8a8a8a" stroke-width="0.8"/>
<line x1="148.80" y1="436.40" x2="151.20" y2="436.40" stroke="#8a8a8a" stroke-width="0.8"/>
<line x1="150.00" y1="416.00" x2="150.00" y2="421.00" stroke="#777" stroke-width="0.7"/>
<line x1="148.80" y1="416.00" x2="151.20" y2="416.00" stroke="#777" stroke-width="0.8"/>
<line x1="148.80" y1="421.00" x2="151.20" y2="421.00" stroke="#777" stroke-width="0.8"/>
<line x1="171.32" y1="445.80" x2="171.32" y2="456.20" stroke="#8a8a8a" stroke-width="0.7"/>
<line x1="170.12" y1="445.80" x2="172.52" y2="445.80" stroke="#8a8a8a" stroke-width="0.8"/>
<line x1="170.12" y1="456.20" x2="172.52" y2="456.20" stroke="#8a8a8a" stroke-width="0.8"/>
<line x1="171.32" y1="402.30" x2="171.32" y2="409.00" stroke="#777" stroke-width="0.7"/>
<line x1="170.12" y1="402.30" x2="172.52" y2="402.30" stroke="#777" stroke-width="0.8"/>
<line x1="170.12" y1="409.00" x2="172.52" y2="409.00" stroke="#777" stroke-width="0.8"/>
<line x1="192.64" y1="395.00" x2="192.64" y2="401.50" stroke="#777" stroke-width="0.7"/>
<line x1="191.44" y1="395.00" x2="193.84" y2="395.00" stroke="#777" stroke-width="0.8"/>
<line x1="191.44" y1="401.50" x2="193.84" y2="401.50" stroke="#777" stroke-width="0.8"/>
<polyline points="43.40,480.40 64.72,479.10 86.04,478.10 107.36,479.10 128.68,479.90 150.00,479.90 171.32,479.90 192.64,479.90" fill="none" stroke="#777" stroke-width="1.1"/>
<polyline points="43.40,473.50 64.72,472.70 86.04,470.20 107.36,435.30 128.68,386.70 150.00,423.10 171.32,450.80 192.64,466.90" fill="none" stroke="#777" stroke-width="0.9"/>
<polyline points="43.40,378.50 64.72,383.00 86.04,406.20 107.36,449.10 128.68,434.90 150.00,418.20 171.32,405.60 192.64,398.20" fill="none" stroke="#777" stroke-width="0.9"/>
<circle cx="43.40" cy="480.40" r="2.45" fill="#111"/>
<circle cx="64.72" cy="479.10" r="2.45" fill="#111"/>
<circle cx="86.04" cy="478.10" r="2.45" fill="#111"/>
<circle cx="107.36" cy="479.10" r="2.45" fill="#111"/>
<circle cx="128.68" cy="479.90" r="2.45" fill="#111"/>
<circle cx="150.00" cy="479.90" r="2.45" fill="#111"/>
<circle cx="171.32" cy="479.90" r="2.45" fill="#111"/>
<circle cx="192.64" cy="479.90" r="2.45" fill="#111"/>
<circle cx="43.40" cy="473.50" r="2.55" fill="#fff" stroke="#333" stroke-width="0.8"/>
<circle cx="64.72" cy="472.70" r="2.55" fill="#fff" stroke="#333" stroke-width="0.8"/>
<circle cx="86.04" cy="470.20" r="2.55" fill="#fff" stroke="#333" stroke-width="0.8"/>
<circle cx="107.36" cy="435.30" r="2.55" fill="#fff" stroke="#333" stroke-width="0.8"/>
<circle cx="128.68" cy="386.70" r="2.55" fill="#fff" stroke="#333" stroke-width="0.8"/>
<circle cx="150.00" cy="423.10" r="2.55" fill="#fff" stroke="#333" stroke-width="0.8"/>
<circle cx="171.32" cy="450.80" r="2.55" fill="#fff" stroke="#333" stroke-width="0.8"/>
<circle cx="192.64" cy="466.90" r="2.55" fill="#fff" stroke="#333" stroke-width="0.8"/>
<polygon points="43.40,375.48 40.54,380.98 46.26,380.98" fill="#111"/>
<polygon points="64.72,379.98 61.86,385.48 67.58,385.48" fill="#111"/>
<polygon points="86.04,403.18 83.18,408.68 88.90,408.68" fill="#111"/>
<polygon points="107.36,446.08 104.50,451.58 110.22,451.58" fill="#111"/>
<polygon points="128.68,431.88 125.82,437.38 131.54,437.38" fill="#111"/>
<polygon points="150.00,415.18 147.14,420.68 152.86,420.68" fill="#111"/>
<polygon points="171.32,402.58 168.46,408.08 174.18,408.08" fill="#111"/>
<polygon points="192.64,395.18 189.78,400.68 195.50,400.68" fill="#111"/>
<line x1="307.60" y1="369.00" x2="474.30" y2="369.00" stroke="#9a9a9a" stroke-width="1.1"/>
<line x1="307.60" y1="369.00" x2="307.60" y2="480.00" stroke="#888" stroke-width="1.0"/>
<line x1="474.30" y1="369.00" x2="474.30" y2="480.00" stroke="#9a9a9a" stroke-width="1.0"/>
<line x1="307.60" y1="480.00" x2="474.30" y2="480.00" stroke="#555" stroke-width="1.0"/>
<line x1="305.20" y1="480.00" x2="307.60" y2="480.00" stroke="#3a3a3a" stroke-width="1.0"/>
<text x="302.00" y="482.52" font-size="8.5" text-anchor="end" fill="#1a1a1a" stroke="#1a1a1a" stroke-width="0.25">0</text>
<line x1="305.20" y1="460.00" x2="307.60" y2="460.00" stroke="#3a3a3a" stroke-width="1.0"/>
<text x="302.00" y="462.52" font-size="8.5" text-anchor="end" fill="#1a1a1a" stroke="#1a1a1a" stroke-width="0.25">10</text>
<line x1="305.20" y1="440.00" x2="307.60" y2="440.00" stroke="#3a3a3a" stroke-width="1.0"/>
<text x="302.00" y="442.52" font-size="8.5" text-anchor="end" fill="#1a1a1a" stroke="#1a1a1a" stroke-width="0.25">20</text>
<line x1="305.20" y1="420.00" x2="307.60" y2="420.00" stroke="#3a3a3a" stroke-width="1.0"/>
<text x="302.00" y="422.52" font-size="8.5" text-anchor="end" fill="#1a1a1a" stroke="#1a1a1a" stroke-width="0.25">30</text>
<line x1="305.20" y1="400.00" x2="307.60" y2="400.00" stroke="#3a3a3a" stroke-width="1.0"/>
<text x="302.00" y="402.52" font-size="8.5" text-anchor="end" fill="#1a1a1a" stroke="#1a1a1a" stroke-width="0.25">40</text>
<line x1="305.20" y1="380.00" x2="307.60" y2="380.00" stroke="#3a3a3a" stroke-width="1.0"/>
<text x="302.00" y="382.52" font-size="8.5" text-anchor="end" fill="#1a1a1a" stroke="#1a1a1a" stroke-width="0.25">50</text>
<line x1="472.10" y1="480.20" x2="476.50" y2="480.20" stroke="#3a3a3a" stroke-width="1.0"/>
<text x="479.00" y="482.72" font-size="8.5" text-anchor="start" fill="#1a1a1a" stroke="#1a1a1a" stroke-width="0.25">20</text>
<line x1="472.10" y1="455.35" x2="476.50" y2="455.35" stroke="#3a3a3a" stroke-width="1.0"/>
<text x="479.00" y="457.87" font-size="8.5" text-anchor="start" fill="#1a1a1a" stroke="#1a1a1a" stroke-width="0.25">40</text>
<line x1="472.10" y1="430.50" x2="476.50" y2="430.50" stroke="#3a3a3a" stroke-width="1.0"/>
<text x="479.00" y="433.02" font-size="8.5" text-anchor="start" fill="#1a1a1a" stroke="#1a1a1a" stroke-width="0.25">60</text>
<line x1="472.10" y1="405.65" x2="476.50" y2="405.65" stroke="#3a3a3a" stroke-width="1.0"/>
<text x="479.00" y="408.17" font-size="8.5" text-anchor="start" fill="#1a1a1a" stroke="#1a1a1a" stroke-width="0.25">80</text>
<line x1="472.10" y1="380.80" x2="476.50" y2="380.80" stroke="#3a3a3a" stroke-width="1.0"/>
<text x="479.00" y="383.32" font-size="8.5" text-anchor="start" fill="#1a1a1a" stroke="#1a1a1a" stroke-width="0.25">100</text>
<line x1="307.60" y1="480.00" x2="307.60" y2="482.20" stroke="#3a3a3a" stroke-width="1.0"/>
<text x="307.60" y="491.12" font-size="8.5" text-anchor="middle" fill="#1a1a1a" stroke="#1a1a1a" stroke-width="0.25">0</text>
<line x1="340.94" y1="480.00" x2="340.94" y2="482.20" stroke="#3a3a3a" stroke-width="1.0"/>
<text x="340.94" y="491.12" font-size="8.5" text-anchor="middle" fill="#1a1a1a" stroke="#1a1a1a" stroke-width="0.25">5</text>
<line x1="374.28" y1="480.00" x2="374.28" y2="482.20" stroke="#3a3a3a" stroke-width="1.0"/>
<text x="374.28" y="491.12" font-size="8.5" text-anchor="middle" fill="#1a1a1a" stroke="#1a1a1a" stroke-width="0.25">10</text>
<line x1="407.62" y1="480.00" x2="407.62" y2="482.20" stroke="#3a3a3a" stroke-width="1.0"/>
<text x="407.62" y="491.12" font-size="8.5" text-anchor="middle" fill="#1a1a1a" stroke="#1a1a1a" stroke-width="0.25">15</text>
<line x1="440.96" y1="480.00" x2="440.96" y2="482.20" stroke="#3a3a3a" stroke-width="1.0"/>
<text x="440.96" y="491.12" font-size="8.5" text-anchor="middle" fill="#1a1a1a" stroke="#1a1a1a" stroke-width="0.25">20</text>
<line x1="474.30" y1="480.00" x2="474.30" y2="482.20" stroke="#3a3a3a" stroke-width="1.0"/>
<text x="474.30" y="491.12" font-size="8.5" text-anchor="middle" fill="#1a1a1a" stroke="#1a1a1a" stroke-width="0.25">25</text>
<text x="392.60" y="503.80" font-size="10.8" text-anchor="middle" fill="#1a1a1a" stroke="#1a1a1a" stroke-width="0.25">Days after infection</text>
<text transform="translate(273.00 426.80) rotate(-90)" font-size="10.8" text-anchor="middle" fill="#1a1a1a" stroke="#1a1a1a" stroke-width="0.25">Parasitemia and</text>
<text transform="translate(285.80 425.50) rotate(-90)" font-size="10.8" text-anchor="middle" fill="#1a1a1a" stroke="#1a1a1a" stroke-width="0.25">reticulocytes (%)</text>
<text transform="translate(501.89 424.60) rotate(-90)" font-size="10.8" text-anchor="middle" fill="#1a1a1a" stroke="#1a1a1a" stroke-width="0.25">Hb (%)</text>
<text x="264.10" y="357.80" font-size="17" text-anchor="start" font-weight="bold" fill="#000">E</text>
<line x1="327.60" y1="388.00" x2="327.60" y2="391.50" stroke="#666" stroke-width="0.7"/>
<line x1="326.40" y1="388.00" x2="328.80" y2="388.00" stroke="#666" stroke-width="0.8"/>
<line x1="326.40" y1="391.50" x2="328.80" y2="391.50" stroke="#666" stroke-width="0.8"/>
<line x1="347.61" y1="388.50" x2="347.61" y2="393.00" stroke="#666" stroke-width="0.7"/>
<line x1="346.41" y1="388.50" x2="348.81" y2="388.50" stroke="#666" stroke-width="0.8"/>
<line x1="346.41" y1="393.00" x2="348.81" y2="393.00" stroke="#666" stroke-width="0.8"/>
<line x1="360.94" y1="419.00" x2="360.94" y2="429.20" stroke="#666" stroke-width="0.7"/>
<line x1="359.74" y1="419.00" x2="362.14" y2="419.00" stroke="#666" stroke-width="0.8"/>
<line x1="359.74" y1="429.20" x2="362.14" y2="429.20" stroke="#666" stroke-width="0.8"/>
<line x1="374.28" y1="450.30" x2="374.28" y2="459.90" stroke="#8a8a8a" stroke-width="0.7"/>
<line x1="373.08" y1="450.30" x2="375.48" y2="450.30" stroke="#8a8a8a" stroke-width="0.8"/>
<line x1="373.08" y1="459.90" x2="375.48" y2="459.90" stroke="#8a8a8a" stroke-width="0.8"/>
<line x1="374.28" y1="445.20" x2="374.28" y2="450.30" stroke="#666" stroke-width="0.7"/>
<line x1="373.08" y1="445.20" x2="375.48" y2="445.20" stroke="#666" stroke-width="0.8"/>
<line x1="373.08" y1="450.30" x2="375.48" y2="450.30" stroke="#666" stroke-width="0.8"/>
<line x1="394.28" y1="410.30" x2="394.28" y2="428.10" stroke="#8a8a8a" stroke-width="0.7"/>
<line x1="393.08" y1="410.30" x2="395.48" y2="410.30" stroke="#8a8a8a" stroke-width="0.8"/>
<line x1="393.08" y1="428.10" x2="395.48" y2="428.10" stroke="#8a8a8a" stroke-width="0.8"/>
<line x1="394.28" y1="441.40" x2="394.28" y2="447.70" stroke="#666" stroke-width="0.7"/>
<line x1="393.08" y1="441.40" x2="395.48" y2="441.40" stroke="#666" stroke-width="0.8"/>
<line x1="393.08" y1="447.70" x2="395.48" y2="447.70" stroke="#666" stroke-width="0.8"/>
<line x1="407.62" y1="378.30" x2="407.62" y2="398.20" stroke="#8a8a8a" stroke-width="0.7"/>
<line x1="406.42" y1="378.30" x2="408.82" y2="378.30" stroke="#8a8a8a" stroke-width="0.8"/>
<line x1="406.42" y1="398.20" x2="408.82" y2="398.20" stroke="#8a8a8a" stroke-width="0.8"/>
<line x1="407.62" y1="442.60" x2="407.62" y2="449.00" stroke="#666" stroke-width="0.7"/>
<line x1="406.42" y1="442.60" x2="408.82" y2="442.60" stroke="#666" stroke-width="0.8"/>
<line x1="406.42" y1="449.00" x2="408.82" y2="449.00" stroke="#666" stroke-width="0.8"/>
<line x1="420.96" y1="385.40" x2="420.96" y2="403.30" stroke="#8a8a8a" stroke-width="0.7"/>
<line x1="419.76" y1="385.40" x2="422.16" y2="385.40" stroke="#8a8a8a" stroke-width="0.8"/>
<line x1="419.76" y1="403.30" x2="422.16" y2="403.30" stroke="#8a8a8a" stroke-width="0.8"/>
<line x1="420.96" y1="409.60" x2="420.96" y2="421.80" stroke="#666" stroke-width="0.7"/>
<line x1="419.76" y1="409.60" x2="422.16" y2="409.60" stroke="#666" stroke-width="0.8"/>
<line x1="419.76" y1="421.80" x2="422.16" y2="421.80" stroke="#666" stroke-width="0.8"/>
<line x1="440.96" y1="454.10" x2="440.96" y2="464.80" stroke="#8a8a8a" stroke-width="0.7"/>
<line x1="439.76" y1="454.10" x2="442.16" y2="454.10" stroke="#8a8a8a" stroke-width="0.8"/>
<line x1="439.76" y1="464.80" x2="442.16" y2="464.80" stroke="#8a8a8a" stroke-width="0.8"/>
<line x1="440.96" y1="390.50" x2="440.96" y2="394.50" stroke="#666" stroke-width="0.7"/>
<line x1="439.76" y1="390.50" x2="442.16" y2="390.50" stroke="#666" stroke-width="0.8"/>
<line x1="439.76" y1="394.50" x2="442.16" y2="394.50" stroke="#666" stroke-width="0.8"/>
<line x1="454.30" y1="391.80" x2="454.30" y2="396.90" stroke="#666" stroke-width="0.7"/>
<line x1="453.10" y1="391.80" x2="455.50" y2="391.80" stroke="#666" stroke-width="0.8"/>
<line x1="453.10" y1="396.90" x2="455.50" y2="396.90" stroke="#666" stroke-width="0.8"/>
<line x1="467.63" y1="389.30" x2="467.63" y2="395.60" stroke="#666" stroke-width="0.7"/>
<line x1="466.43" y1="389.30" x2="468.83" y2="389.30" stroke="#666" stroke-width="0.8"/>
<line x1="466.43" y1="395.60" x2="468.83" y2="395.60" stroke="#666" stroke-width="0.8"/>
<polyline points="307.60,480.30 327.60,480.30 347.61,477.40 360.94,475.70 374.28,476.20 394.28,476.20 407.62,478.80 420.96,480.00 440.96,480.00 454.30,480.00 467.63,480.00" fill="none" stroke="#777" stroke-width="1.1"/>
<polyline points="307.60,475.90 327.60,475.40 347.61,477.40 360.94,475.70 374.28,453.70 394.28,419.20 407.62,388.00 420.96,394.90 440.96,458.00 454.30,469.90 467.63,469.90" fill="none" stroke="#777" stroke-width="0.9"/>
<polyline points="307.60,381.10 327.60,389.70 347.61,391.30 360.94,424.80 374.28,448.20 394.28,445.20 407.62,447.30 420.96,417.30 440.96,392.60 454.30,395.20 467.63,392.60" fill="none" stroke="#777" stroke-width="0.9"/>
<circle cx="307.60" cy="475.90" r="2.55" fill="#fff" stroke="#333" stroke-width="0.8"/>
<circle cx="327.60" cy="475.40" r="2.55" fill="#fff" stroke="#333" stroke-width="0.8"/>
<circle cx="374.28" cy="453.70" r="2.55" fill="#fff" stroke="#333" stroke-width="0.8"/>
<circle cx="394.28" cy="419.20" r="2.55" fill="#fff" stroke="#333" stroke-width="0.8"/>
<circle cx="407.62" cy="388.00" r="2.55" fill="#fff" stroke="#333" stroke-width="0.8"/>
<circle cx="420.96" cy="394.90" r="2.55" fill="#fff" stroke="#333" stroke-width="0.8"/>
<circle cx="440.96" cy="458.00" r="2.55" fill="#fff" stroke="#333" stroke-width="0.8"/>
<circle cx="454.30" cy="469.90" r="2.55" fill="#fff" stroke="#333" stroke-width="0.8"/>
<circle cx="467.63" cy="469.90" r="2.55" fill="#fff" stroke="#333" stroke-width="0.8"/>
<circle cx="307.60" cy="480.30" r="2.45" fill="#111"/>
<circle cx="327.60" cy="480.30" r="2.45" fill="#111"/>
<circle cx="347.61" cy="477.40" r="2.45" fill="#111"/>
<circle cx="360.94" cy="475.70" r="2.45" fill="#111"/>
<circle cx="374.28" cy="476.20" r="2.45" fill="#111"/>
<circle cx="394.28" cy="476.20" r="2.45" fill="#111"/>
<circle cx="407.62" cy="478.80" r="2.45" fill="#111"/>
<circle cx="420.96" cy="480.00" r="2.45" fill="#111"/>
<circle cx="440.96" cy="480.00" r="2.45" fill="#111"/>
<circle cx="454.30" cy="480.00" r="2.45" fill="#111"/>
<circle cx="467.63" cy="480.00" r="2.45" fill="#111"/>
<polygon points="307.60,378.08 304.74,383.58 310.46,383.58" fill="#111"/>
<polygon points="327.60,386.68 324.74,392.18 330.46,392.18" fill="#111"/>
<polygon points="347.61,388.28 344.75,393.78 350.47,393.78" fill="#111"/>
<polygon points="360.94,421.78 358.08,427.28 363.80,427.28" fill="#111"/>
<polygon points="374.28,445.18 371.42,450.68 377.14,450.68" fill="#111"/>
<polygon points="394.28,442.18 391.42,447.68 397.14,447.68" fill="#111"/>
<polygon points="407.62,444.28 404.76,449.78 410.48,449.78" fill="#111"/>
<polygon points="420.96,414.28 418.10,419.78 423.82,419.78" fill="#111"/>
<polygon points="440.96,389.58 438.10,395.08 443.82,395.08" fill="#111"/>
<polygon points="454.30,392.18 451.44,397.68 457.16,397.68" fill="#111"/>
<polygon points="467.63,389.58 464.77,395.08 470.49,395.08" fill="#111"/>
</svg>
</body></html>
